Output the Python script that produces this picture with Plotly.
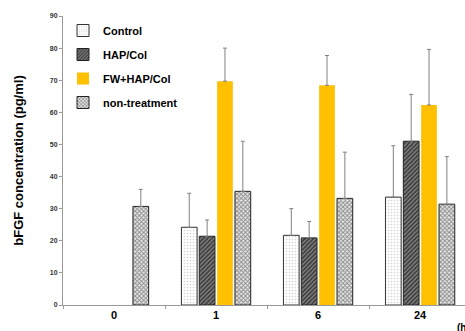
import plotly.graph_objects as go

categories = ["0", "1", "6", "24"]
series_names = ["Control", "HAP/Col", "FW+HAP/Col", "non-treatment"]
control = [None, 24.2, 21.7, 33.6]
control_err_top = [None, 34.8, 30.0, 49.6]
hap = [None, 21.4, 20.9, 51.0]
hap_err_top = [None, 26.5, 26.0, 65.6]
fw = [None, 69.7, 68.4, 62.3]
fw_err_top = [None, 80.0, 77.7, 79.6]
nontreat = [30.7, 35.4, 33.2, 31.4]
nontreat_err_top = [36.0, 51.0, 47.6, 46.2]
y_ticks = [0, 10, 20, 30, 40, 50, 60, 70, 80, 90]

FONT = "Liberation Sans, Arial, sans-serif"

def err(vals, tops):
    return [None if v is None else t - v for v, t in zip(vals, tops)]

styles = [
    dict(pattern=dict(shape=".", bgcolor="white", fgcolor="#aaaaaa", size=3, solidity=0.25),
         line=dict(color="#333333", width=1)),
    dict(pattern=dict(shape="/", bgcolor="#3a3a3a", fgcolor="#d0d0d0", size=3, solidity=0.45),
         line=dict(color="#222222", width=1)),
    dict(pattern=None, line=dict(color="#FFC000", width=0)),
    dict(pattern=dict(shape="x", bgcolor="#e8e8e8", fgcolor="#333333", size=3, solidity=0.55),
         line=dict(color="#222222", width=1)),
]
data = [(control, control_err_top), (hap, hap_err_top), (fw, fw_err_top), (nontreat, nontreat_err_top)]
colors = ["white", "#3a3a3a", "#FFC000", "#e8e8e8"]

fig = go.Figure()
for i, (name, (vals, tops)) in enumerate(zip(series_names, data)):
    marker = dict(color=colors[i], line=styles[i]["line"])
    if styles[i]["pattern"]:
        marker["pattern"] = styles[i]["pattern"]
    fig.add_trace(go.Bar(
        x=categories, y=vals, name=name, marker=marker, legendgroup=name,
        error_y=dict(type="data", symmetric=False, array=err(vals, tops),
                     arrayminus=[0] * 4, color="#808080", thickness=1, width=2),
    ))

fig.update_layout(
    width=465, height=331,
    margin=dict(l=63, r=0, t=16, b=26),
    paper_bgcolor="white", plot_bgcolor="white",
    barmode="group", bargap=0.30, bargroupgap=0.12,
    font=dict(family=FONT, color="black"),
    showlegend=True,
    legend=dict(x=0.0, y=1.0, xanchor="left", yanchor="top", bgcolor="rgba(0,0,0,0)",
                font=dict(family=FONT, size=11, weight="bold", color="black"),
                traceorder="grouped", tracegroupgap=5),
    xaxis=dict(type="category", range=[-0.5, 3.44], showline=True, linecolor="#999999",
               linewidth=1, ticks="outside", tickson="boundaries", ticklen=3,
               tickcolor="#999999", showgrid=False, automargin=False,
               tickfont=dict(family=FONT, size=11, weight="bold", color="black")),
    yaxis=dict(range=[0, 90], tickvals=y_ticks, showline=True, linecolor="#999999",
               linewidth=1, ticks="outside", ticklen=3, tickcolor="#999999",
               showgrid=False, zeroline=False, automargin=False,
               tickfont=dict(family=FONT, size=7, weight="bold", color="#333333"),
               title=dict(text="bFGF concentration (pg/ml)", standoff=23,
                          font=dict(family=FONT, size=13, weight="bold", color="black"))),
    annotations=[dict(text="(h)", xref="paper", yref="paper", x=0.975, y=0, yshift=-15,
                      xanchor="left", yanchor="top", showarrow=False,
                      font=dict(family=FONT, size=10, weight="bold", color="black"))],
)

fig.write_html("out.html", config={"displayModeBar": False},
               post_script="document.body.style.margin='0';")
